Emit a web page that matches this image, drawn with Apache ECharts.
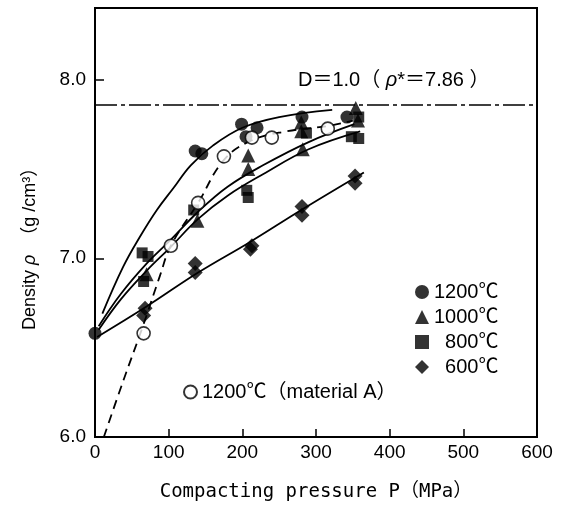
<!DOCTYPE html>
<html>
<head>
<meta charset="utf-8">
<title>Density vs compacting pressure</title>
<script src="https://cdn.jsdelivr.net/npm/echarts@6/dist/echarts.min.js"></script>
<style>
  html, body { margin: 0; padding: 0; background: #fff; }
  #chart { width: 564px; height: 508px; }
</style>
</head>
<body>
<div id="chart"></div>
<script>
// measured points, [pressure MPa, density g/cm3]
const pts1200 = [[0, 6.58], [136, 7.60], [145, 7.585], [199, 7.75], [205, 7.68], [220, 7.73], [281, 7.79], [342, 7.79]]
const pts1000 = [[70, 6.91], [139, 7.21], [208, 7.575], [208, 7.50], [280, 7.76], [280, 7.71], [282, 7.61], [354, 7.84], [357, 7.77]]
const pts800 = [[64, 7.03], [72, 7.01], [66, 6.87], [134, 7.27], [206, 7.38], [208, 7.34], [287, 7.70], [348, 7.68], [358, 7.67], [358, 7.79]]
const pts600 = [[68, 6.72], [66, 6.68], [136, 6.97], [136, 6.92], [213, 7.07], [211, 7.05], [281, 7.29], [281, 7.24], [353, 7.46], [353, 7.42]]
const ptsA = [[66, 6.58], [103, 7.07], [140, 7.31], [175, 7.57], [213, 7.675], [240, 7.675], [316, 7.725]]

// fitted curves
const fit1200 = [[10, 6.69], [38, 6.95], [61, 7.12], [84, 7.27], [106, 7.39], [130, 7.52], [160, 7.63], [200, 7.73], [250, 7.79], [322, 7.83]]
const fit1000 = [[5, 6.62], [35, 6.80], [70, 6.97], [102, 7.10], [140, 7.26], [180, 7.40], [228, 7.52], [290, 7.65], [352, 7.75]]
const fit800 = [[5, 6.60], [35, 6.77], [70, 6.93], [102, 7.06], [140, 7.22], [180, 7.35], [228, 7.47], [290, 7.61], [360, 7.71]]
const fit600 = [[3, 6.56], [70, 6.73], [140, 6.92], [210, 7.09], [280, 7.27], [365, 7.48]]
const fitA = [[12, 6.0], [38, 6.31], [65, 6.62], [88, 6.90], [103, 7.07], [140, 7.31], [175, 7.55], [213, 7.66], [260, 7.71], [316, 7.74], [350, 7.77]]

const rhoStar = 7.86
const legendNames = ['1200℃', '1000℃', '800℃', '600℃']
const nameA = '1200℃（material A）'

const FONT = '"Liberation Sans", "Noto Sans CJK JP", sans-serif'
const BLACK = '#000'

const chart = echarts.init(document.getElementById('chart'))

function curve(name, data, dashed) {
  return {
    name: name,
    type: 'line',
    data: data,
    smooth: 0.4,
    showSymbol: false,
    silent: true,
    z: 2,
    lineStyle: { color: BLACK, width: 1.8, type: dashed ? [9, 6] : 'solid' }
  }
}

function dots(name, data, symbol, size, hollow) {
  return {
    name: name,
    type: 'scatter',
    data: data,
    symbol: symbol,
    symbolSize: size,
    z: hollow ? 6 : 5,
    itemStyle: hollow
      ? { color: '#fff', borderColor: BLACK, borderWidth: 1.6 }
      : { color: BLACK }
  }
}

const c1200 = curve('fit 1200', fit1200)
c1200.markLine = {
  silent: true,
  symbol: ['none', 'none'],
  label: { show: false },
  lineStyle: { color: BLACK, width: 1.6, type: [22, 4, 4, 4] },
  data: [{ yAxis: rhoStar }]
}

chart.setOption({
  animation: false,
  textStyle: { fontFamily: FONT },
  grid: { left: 95, right: 27, top: 8, bottom: 71, show: true, borderColor: BLACK, borderWidth: 2 },
  xAxis: {
    type: 'value',
    min: 0,
    max: 600,
    interval: 100,
    name: 'Compacting pressure P（MPa）',
    nameLocation: 'middle',
    nameGap: 46,
    nameTextStyle: { fontFamily: '"DejaVu Sans Mono", "Noto Sans CJK JP", monospace', fontSize: 19, color: BLACK },
    axisLine: { lineStyle: { color: BLACK, width: 2 } },
    axisTick: { inside: true, length: 8, lineStyle: { color: BLACK, width: 1.5 } },
    axisLabel: { color: BLACK, fontSize: 19, margin: 6 },
    splitLine: { show: false }
  },
  yAxis: {
    type: 'value',
    min: 6,
    max: 8.4,
    interval: 1,
    axisLine: { lineStyle: { color: BLACK, width: 2 } },
    axisTick: { inside: true, length: 9, lineStyle: { color: BLACK, width: 1.5 } },
    axisLabel: {
      color: BLACK,
      fontSize: 19,
      margin: 9,
      formatter: v => (v % 1 === 0 ? v.toFixed(1) : '')
    },
    splitLine: { show: false }
  },
  legend: [
    {
      data: legendNames,
      orient: 'vertical',
      left: 410,
      top: 277,
      itemWidth: 14,
      itemHeight: 14,
      itemGap: 5,
      selectedMode: false,
      formatter: n => (n.length < 5 ? '\u2007' + n : n),
      textStyle: { color: BLACK, fontSize: 20, fontFamily: FONT }
    },
    {
      data: [nameA],
      left: 178,
      top: 377,
      itemWidth: 13,
      itemHeight: 13,
      selectedMode: false,
      textStyle: { color: BLACK, fontSize: 20, fontFamily: FONT }
    }
  ],
  graphic: [
    {
      type: 'text',
      left: 298,
      top: 70,
      style: {
        text: '{n|D＝1.0（ }{i|ρ}{n|*＝7.86 ）}',
        rich: {
          n: { fontSize: 20, fontFamily: FONT, fill: BLACK },
          i: { fontSize: 20, fontFamily: FONT, fontStyle: 'italic', fill: BLACK }
        }
      }
    },
    {
      type: 'text',
      x: 30,
      y: 330,
      rotation: Math.PI / 2,
      style: {
        text: '{n|Density }{i|ρ}{n|  （g /cm³）}',
        align: 'left',
        verticalAlign: 'middle',
        rich: {
          n: { fontSize: 18, fontFamily: FONT, fill: BLACK },
          i: { fontSize: 18, fontFamily: FONT, fontStyle: 'italic', fill: BLACK }
        }
      }
    }
  ],
  series: [
    c1200,
    curve('fit 1000', fit1000),
    curve('fit 800', fit800),
    curve('fit 600', fit600),
    curve('fit A', fitA, true),
    dots('1200℃', pts1200, 'circle', 13),
    dots('1000℃', pts1000, 'triangle', 14),
    dots('800℃', pts800, 'rect', 11),
    dots('600℃', pts600, 'diamond', 15),
    dots(nameA, ptsA, 'circle', 13, true)
  ]
})
</script>
</body>
</html>
